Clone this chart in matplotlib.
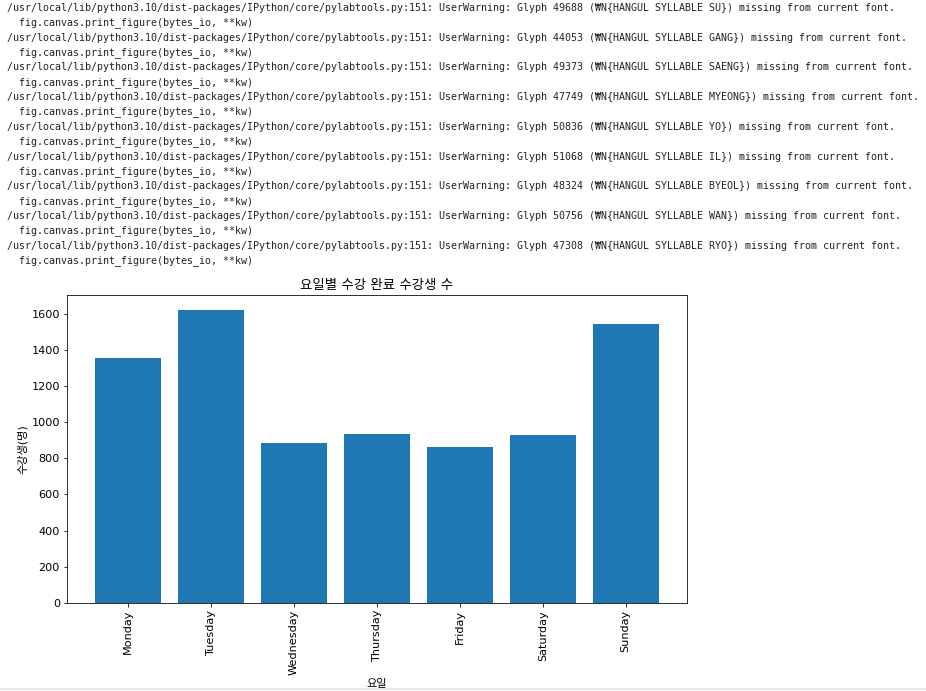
import matplotlib
matplotlib.use("Agg")
import matplotlib.pyplot as plt

days = ['Monday', 'Tuesday', 'Wednesday', 'Thursday', 'Friday', 'Saturday', 'Sunday']
students = [1353, 1622, 886, 936, 862, 928, 1543]

# warnings printed above the figure in the notebook
missing = [
    (49688, 'SU'), (44053, 'GANG'), (49373, 'SAENG'), (47749, 'MYEONG'),
    (50836, 'YO'), (51068, 'IL'), (48324, 'BYEOL'), (50756, 'WAN'), (47308, 'RYO'),
]

plt.rcParams['font.family'] = ['DejaVu Sans', 'Noto Sans CJK KR']
plt.rcParams['font.size'] = 11.2

W, H, DPI = 926, 691, 72
fig = plt.figure(figsize=(W / DPI, H / DPI), dpi=DPI)

lines = []
for code, name in missing:
    lines.append('/usr/local/lib/python3.10/dist-packages/IPython/core/pylabtools.py:151: '
                 'UserWarning: Glyph %d (₩N{HANGUL SYLLABLE %s}) missing from current font.' % (code, name))
    lines.append('  fig.canvas.print_figure(bytes_io, **kw)')

for i, s in enumerate(lines):
    y = 8 + i * 14.85
    fig.text(7 / W, 1 - y / H, s, family=['DejaVu Sans Mono', 'Noto Sans CJK KR'],
             fontsize=10, va='center', ha='left', color='#222222')

ax = fig.add_axes([67 / W, (H - 603) / H, (687 - 67) / W, (603 - 295) / H])
ax.bar(days, students, color='#1f77b4')
ax.set_title('요일별 수강 완료 수강생 수', fontsize=13.4)
ax.set_xlabel('요일')
ax.set_ylabel('수강생(명)')
ax.tick_params(axis='x', rotation=90)

# notebook cell border
fig.add_artist(plt.Line2D([0, 1], [1 - 689 / H, 1 - 689 / H], color='#e0e0e0', lw=1.5))

fig.savefig('out.png', dpi=DPI)
